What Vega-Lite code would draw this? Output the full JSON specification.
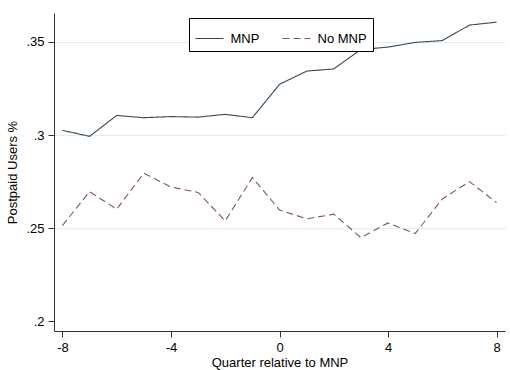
{
  "$schema": "https://vega.github.io/schema/vega-lite/v6.json",
  "width": 451,
  "height": 318,
  "autosize": {"type": "none"},
  "padding": {"left": 54, "top": 13, "right": 5, "bottom": 39},
  "background": "white",
  "config": {
    "view": {"stroke": null},
    "font": "Liberation Sans",
    "axis": {"labelFont": "Liberation Sans", "titleFont": "Liberation Sans", "labelFontSize": 13, "titleFontSize": 13, "titleFontWeight": "normal", "labelColor": "#000", "titleColor": "#000", "domainColor": "#333", "tickColor": "#333", "tickSize": 6}
  },
  "data": {
    "values": [
      {"q": -8, "v": 0.3025, "g": "MNP"},
      {"q": -7, "v": 0.2993, "g": "MNP"},
      {"q": -6, "v": 0.3105, "g": "MNP"},
      {"q": -5, "v": 0.3093, "g": "MNP"},
      {"q": -4, "v": 0.3099, "g": "MNP"},
      {"q": -3, "v": 0.3096, "g": "MNP"},
      {"q": -2, "v": 0.3111, "g": "MNP"},
      {"q": -1, "v": 0.3093, "g": "MNP"},
      {"q": 0, "v": 0.3272, "g": "MNP"},
      {"q": 1, "v": 0.3343, "g": "MNP"},
      {"q": 2, "v": 0.3355, "g": "MNP"},
      {"q": 3, "v": 0.3459, "g": "MNP"},
      {"q": 4, "v": 0.3472, "g": "MNP"},
      {"q": 5, "v": 0.3497, "g": "MNP"},
      {"q": 6, "v": 0.3507, "g": "MNP"},
      {"q": 7, "v": 0.359, "g": "MNP"},
      {"q": 8, "v": 0.3606, "g": "MNP"},
      {"q": -8, "v": 0.2514, "g": "No MNP"},
      {"q": -7, "v": 0.2696, "g": "No MNP"},
      {"q": -6, "v": 0.2602, "g": "No MNP"},
      {"q": -5, "v": 0.2795, "g": "No MNP"},
      {"q": -4, "v": 0.2721, "g": "No MNP"},
      {"q": -3, "v": 0.2692, "g": "No MNP"},
      {"q": -2, "v": 0.2539, "g": "No MNP"},
      {"q": -1, "v": 0.2772, "g": "No MNP"},
      {"q": 0, "v": 0.2598, "g": "No MNP"},
      {"q": 1, "v": 0.255, "g": "No MNP"},
      {"q": 2, "v": 0.2575, "g": "No MNP"},
      {"q": 3, "v": 0.2449, "g": "No MNP"},
      {"q": 4, "v": 0.2528, "g": "No MNP"},
      {"q": 5, "v": 0.2471, "g": "No MNP"},
      {"q": 6, "v": 0.2657, "g": "No MNP"},
      {"q": 7, "v": 0.275, "g": "No MNP"},
      {"q": 8, "v": 0.2637, "g": "No MNP"}
    ]
  },
  "mark": {"type": "line", "strokeWidth": 1.1},
  "encoding": {
    "x": {
      "field": "q", "type": "quantitative",
      "scale": {"domain": [-8.31, 8.31], "nice": false, "zero": false},
      "axis": {"values": [-8, -4, 0, 4, 8], "labelExpr": "toString(datum.value)", "grid": false, "title": "Quarter relative to MNP", "labelPadding": 4, "titleBaseline": "alphabetic", "titleY": 35}
    },
    "y": {
      "field": "v", "type": "quantitative",
      "scale": {"domain": [0.1948, 0.3655], "nice": false, "zero": false},
      "axis": {
        "values": [0.2, 0.25, 0.3, 0.35],
        "labelExpr": "substring(format(datum.value, '.2~f'), 1)",
        "grid": true,
        "gridColor": {"condition": {"test": "datum.value < 0.21", "value": "transparent"}, "value": "#e6ebee"},
        "labelPadding": 4,
        "title": "Postpaid Users %",
        "titleX": -35
      }
    },
    "color": {
      "field": "g", "type": "nominal",
      "scale": {"domain": ["MNP", "No MNP"], "range": ["#34495a", "#7e5566"]},
      "legend": {
        "title": null, "orient": "none", "direction": "horizontal",
        "legendX": 135, "legendY": 5,
        "symbolType": "stroke", "symbolSize": 784, "symbolStrokeWidth": 1.1,
        "labelFontSize": 13, "labelFont": "Liberation Sans", "labelColor": "#000",
        "labelOffset": 6, "columnPadding": 20,
        "padding": 5.5, "strokeColor": "#000", "fillColor": "white"
      }
    },
    "strokeDash": {
      "field": "g", "type": "nominal",
      "scale": {"domain": ["MNP", "No MNP"], "range": [[1, 0], [7, 4]]},
      "legend": null
    }
  }
}
